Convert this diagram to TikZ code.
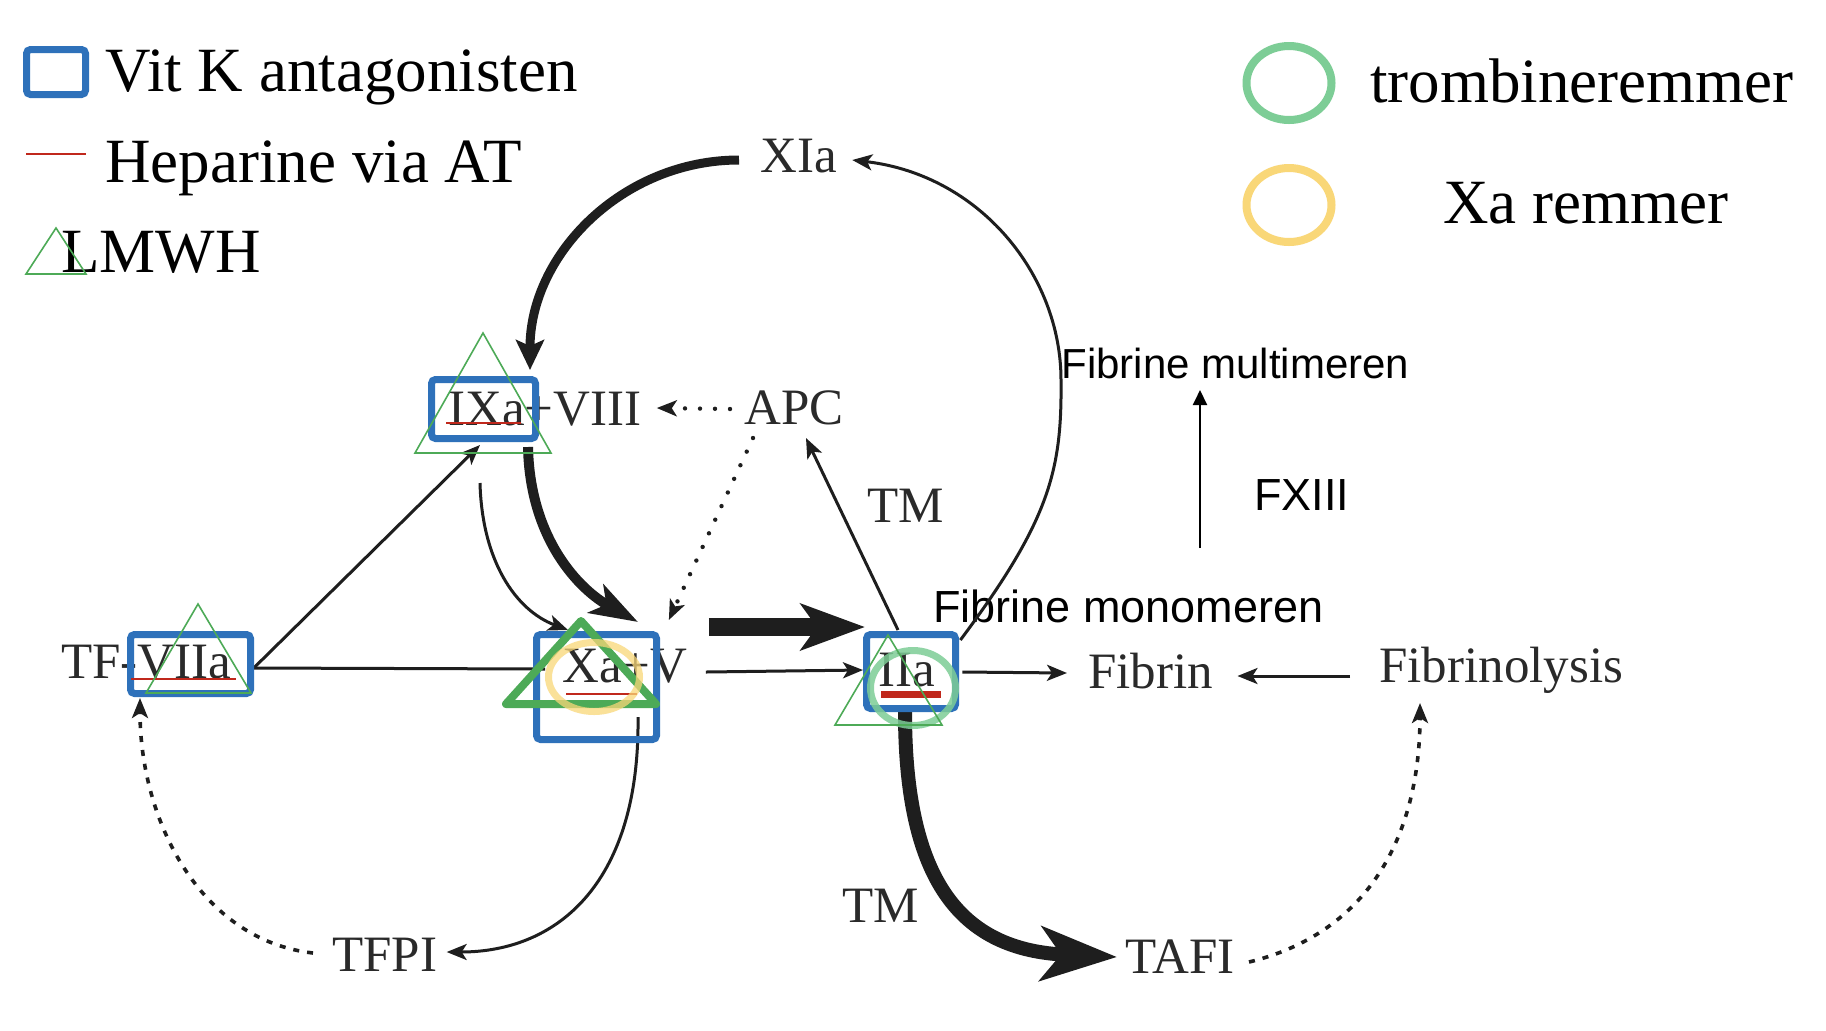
\documentclass[tikz,border=0pt]{standalone}
\usepackage{fontspec}
\setmainfont{Liberation Serif}
\newfontfamily\arialfont{Liberation Sans}
\usetikzlibrary{arrows.meta}

\definecolor{ink}{HTML}{1E1E1E}
\definecolor{factorgrey}{HTML}{2A2A2A}
\definecolor{vkblue}{HTML}{2E71BA}
\definecolor{lmgreen}{HTML}{4DAA57}
\definecolor{ringgreen}{HTML}{7DCD96}
\definecolor{ringyellow}{HTML}{F9D778}
\definecolor{hepred}{HTML}{C0281C}

\begin{document}
\begin{tikzpicture}[x=0.5pt, y=-0.5pt,
    factor/.style={inner sep=0pt, anchor=base west, text=factorgrey, font=\fontsize{25.5}{30}\selectfont},
    legendtext/.style={inner sep=0pt, anchor=base west, font=\fontsize{31.5}{36}\selectfont},
    sanstext/.style={inner sep=0pt, anchor=base west, font=\arialfont\fontsize{22.5}{26}\selectfont},
    conn/.style={draw=ink, line width=1.5pt, -{Stealth[length=10pt, width=8pt, inset=2.5pt]}},
    dotconn/.style={conn, line cap=round, dash pattern=on 0pt off 7.5pt, line width=2.2pt},
    dashconn/.style={conn, dash pattern=on 3pt off 4pt, line width=1.8pt},
    vkbox/.style={draw=vkblue, line width=3.5pt, rounded corners=2pt},
    lmwhtri/.style={draw=lmgreen, line width=0.8pt},
    hepline/.style={draw=hepred, line width=1.2pt},
    ring/.style={line width=3.5pt}]

    \path[fill=white, use as bounding box] (0, 0) rectangle (1826, 1030);

    \node[legendtext] (vitk) at (105, 91) {Vit K antagonisten};
    \node[legendtext] (heparine) at (105, 182) {Heparine via AT};
    \node[legendtext] (lmwh) at (61, 272) {LMWH};
    \node[legendtext] (trombine) at (1370, 102) {trombineremmer};
    \node[legendtext] (xarem) at (1443, 223) {Xa remmer};

    \node[factor] (xia) at (760, 172) {XIa};
    \node[factor] (ixa) at (448, 425) {IXa+VIII};
    \node[factor] (apc) at (744, 424) {APC};
    \node[factor] (tmup) at (867, 522) {TM};
    \node[factor] (tfviia) at (61, 678) {TF-VIIa};
    \node[factor] (xav) at (562, 682) {Xa+V};
    \node[factor] (iia) at (878, 686) {IIa};
    \node[factor] (fibrin) at (1088, 688) {Fibrin};
    \node[factor] (lysis) at (1379, 682) {Fibrinolysis};
    \node[factor] (tfpi) at (332, 971) {TFPI};
    \node[factor] (tmdown) at (842, 922) {TM};
    \node[factor] (tafi) at (1125, 973) {TAFI};
    \node[sanstext] (mono) at (933, 622) {Fibrine monomeren};
    \node[sanstext, font=\arialfont\fontsize{21}{25}\selectfont] (multi) at (1061, 378) {Fibrine multimeren};
    \node[sanstext] (fxiii) at (1254, 510) {FXIII};

    \draw[draw=ink, line width=4.5pt, -{Stealth[length=15pt, width=14pt, inset=3pt]}] ([shift={(-21,-12)}]xia.base west) .. controls (623, 160) and (530, 254) .. ([shift={(82,-55)}]ixa.base west);
    \draw[conn] ([shift={(25,-46)}]iia.base east) .. controls (1050, 520) and (1062, 470) .. (1061, 380) .. controls (1061, 275) and (980, 175) .. ([shift={(15,-12)}]xia.base east);
    \draw[dotconn] ([shift={(-14,-15)}]apc.base west) -- ([shift={(15,-17)}]ixa.base east);
    \draw[conn] ([shift={(22,-10)}]tfviia.base east) -- ([shift={(32,20)}]ixa.base west);
    \draw[conn, -] ([shift={(21,-10)}]tfviia.base east) -- ([shift={(-17,-13)}]xav.base west);
    \draw[draw=ink, line width=5pt, -{Stealth[length=24pt, width=16pt, inset=6pt]}] ([shift={(80,22)}]ixa.base west) .. controls (530, 540) and (580, 590) .. ([shift={(76,-60)}]xav.base west);
    \draw[conn] ([shift={(32,58)}]ixa.base west) .. controls (482, 560) and (515, 610) .. ([shift={(6,-52)}]xav.base west);
    \draw[dotconn] ([shift={(9,14)}]apc.base west) -- ([shift={(-19,-62)}]xav.base east);
    \draw[conn] ([shift={(20,-56)}]iia.base west) -- ([shift={(62,14)}]apc.base west);
    \draw[draw=ink, line width=9pt, -{Stealth[length=32pt, width=23pt, inset=8pt]}] ([shift={(21,-55)}]xav.base east) -- ([shift={(-13,-59)}]iia.base west);
    \draw[conn] ([shift={(18,-10)}]xav.base east) -- ([shift={(-15,-16)}]iia.base west);
    \draw[conn] ([shift={(27,-14)}]iia.base east) -- ([shift={(-21,-15)}]fibrin.base west);
    \draw[conn] ([shift={(-29,-6)}]lysis.base west) -- ([shift={(24,-12)}]fibrin.base east);
    \draw[conn] ([shift={(76,35)}]xav.base west) .. controls (640, 880) and (560, 952) .. ([shift={(9,-19)}]tfpi.base east);
    \draw[dashconn] ([shift={(-19,-18)}]tfpi.base west) .. controls (200, 940) and (140, 820) .. ([shift={(79,20)}]tfviia.base west);
    \draw[draw=ink, line width=7pt, -{Stealth[length=38pt, width=27pt, inset=10pt]}] ([shift={(27,26)}]iia.base west) .. controls (905, 880) and (960, 950) .. ([shift={(-8,-16)}]tafi.base west);
    \draw[dashconn] ([shift={(14,-11)}]tafi.base east) .. controls (1380, 930) and (1420, 820) .. ([shift={(41,21)}]lysis.base west);
    \draw[draw=black, line width=1pt, -{Triangle[length=7.5pt, width=7pt]}] ([shift={(267,-74)}]mono.base west) -- ([shift={(139,12)}]multi.base west);

    \draw[vkbox] (26.5, 49.5) rectangle (85.5, 94.5);
    \draw[vkbox] (431.5, 379.5) rectangle (535.5, 438.5);
    \draw[vkbox] (130.5, 634.5) rectangle (250.5, 693.5);
    \draw[vkbox] (536.5, 634.5) rectangle (656.5, 739.5);
    \draw[vkbox] (866.5, 634.5) rectangle (955.5, 708.5);

    \draw[hepline] (26, 154) -- (86, 154);
    \draw[hepline] (446, 423) -- (521, 423);
    \draw[hepline] (131, 679) -- (236, 679);
    \draw[hepline] (566, 694) -- (637, 694);
    \draw[hepline, line width=3.5pt] (881, 694.5) -- (941, 694.5);

    \draw[lmwhtri, line width=4pt, line join=round] (581, 621) -- (506, 704) -- (656, 704) -- cycle;

    \draw[ring, line width=4pt, draw=ringgreen] (1289, 83) ellipse [x radius=42.5, y radius=37];
    \draw[ring, line width=4pt, draw=ringyellow] (1289, 205) ellipse [x radius=42.5, y radius=37];
    \draw[ring, draw=ringyellow, opacity=0.75] (594, 677) ellipse [x radius=45.5, y radius=34.5];
    \draw[ring, draw=ringgreen, opacity=0.85] (913, 688) ellipse [x radius=42.5, y radius=37.5];

    \draw[lmwhtri] (56, 228) -- (26, 274) -- (86, 274) -- cycle;
    \draw[lmwhtri] (483, 333) -- (415, 453) -- (551, 453) -- cycle;
    \draw[lmwhtri] (198, 604) -- (146, 693) -- (251, 693) -- cycle;
    \draw[lmwhtri] (888, 635) -- (835, 725) -- (942, 725) -- cycle;
\end{tikzpicture}
\end{document}
